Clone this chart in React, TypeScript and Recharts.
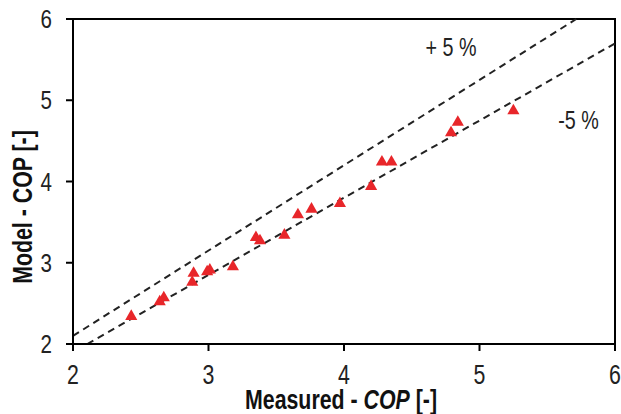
import React from 'react';
import { ScatterChart, Scatter, XAxis, YAxis, ReferenceLine, ReferenceArea, ReferenceDot, Label } from 'recharts';

const measured = [2.43, 2.64, 2.67, 2.88, 2.89, 2.99, 3.01, 3.18, 3.35, 3.38, 3.56, 3.66, 3.76, 3.97, 4.20, 4.28, 4.35, 4.79, 4.84, 5.25];
const model = [2.34, 2.52, 2.57, 2.76, 2.87, 2.89, 2.91, 2.95, 3.31, 3.27, 3.34, 3.59, 3.66, 3.73, 3.94, 4.24, 4.24, 4.60, 4.73, 4.87];
const ticks = [2, 3, 4, 5, 6];
const plusLine = [{ x: 2, y: 2.1 }, { x: 6 / 1.05, y: 6 }];
const minusLine = [{ x: 2 / 0.95, y: 2 }, { x: 6, y: 5.7 }];

const data = measured.map((m, i) => ({ x: m, y: model[i] }));

const FONT = '"Liberation Sans", Arial, sans-serif';
const SX = 0.79;

const XTick = (props: any) => {
  const { x, y, payload } = props;
  return (
    <g transform={`translate(${x},${y})`}>
      <text transform={`scale(${SX},1)`} textAnchor="middle" y={33} fontFamily={FONT} fontSize={27} fill="#222">
        {payload.value}
      </text>
    </g>
  );
};

const YTick = (props: any) => {
  const { y, payload } = props;
  return (
    <g transform={`translate(52,${y})`}>
      <text transform={`scale(${SX},1)`} textAnchor="end" y={9} fontFamily={FONT} fontSize={26} fill="#222">
        {payload.value}
      </text>
    </g>
  );
};

const mkLabel = (text: string) => (p: any) => {
  const vb = p.viewBox || {};
  const cx = vb.x + (vb.width || 0) / 2;
  const cy = vb.y + (vb.height || 0) / 2;
  return (
    <g transform={`translate(${cx},${cy})`}>
      <text transform={`scale(${SX},1)`} textAnchor="middle" y={9} fontFamily={FONT} fontSize={25} fill="#222">
        {text}
      </text>
    </g>
  );
};

export default function App() {
  return (
    <div style={{ position: 'absolute', left: 0, top: 0, background: '#fff' }}>
      <ScatterChart width={621} height={414} margin={{ top: 19, right: 6, bottom: 0, left: 0 }}>
        <XAxis
          type="number"
          dataKey="x"
          domain={[2, 6]}
          ticks={ticks}
          height={70}
          stroke="#000"
          strokeWidth={2}
          tickSize={7}
          tickMargin={0}
          tick={<XTick />}
        >
          <Label
            content={() => (
              <g transform="translate(341,409)">
                <text transform={`scale(${SX},1)`} textAnchor="middle" fontFamily={FONT} fontSize={27} fontWeight="bold" fill="#111">
                  Measured - <tspan fontStyle="italic">COP</tspan> [-]
                </text>
              </g>
            )}
          />
        </XAxis>
        <YAxis
          type="number"
          dataKey="y"
          domain={[2, 6]}
          ticks={ticks}
          width={73}
          stroke="#000"
          strokeWidth={2}
          tickSize={7}
          tick={<YTick />}
        >
          <Label
            content={() => (
              <g transform="translate(22,207) rotate(-90)">
                <text transform={`scale(${SX},1)`} textAnchor="middle" y={9.5} fontFamily={FONT} fontSize={27} fontWeight="bold" fill="#111">
                  Model - COP [-]
                </text>
              </g>
            )}
          />
        </YAxis>
        <ReferenceArea x1={2} x2={6} y1={2} y2={6} fill="none" stroke="#000" strokeWidth={2} />
        <ReferenceLine segment={plusLine} stroke="#222" strokeWidth={2} strokeDasharray="7 5" />
        <ReferenceLine segment={minusLine} stroke="#222" strokeWidth={2} strokeDasharray="7 5" />
        <ReferenceDot x={4.79} y={5.66} r={0} fill="none" stroke="none" label={mkLabel('+ 5 %')} />
        <ReferenceDot x={5.73} y={4.76} r={0} fill="none" stroke="none" label={mkLabel('-5 %')} />
        <Scatter data={data} shape="triangle" fill="#e8262a" isAnimationActive={false} legendType="triangle" size={80} />
      </ScatterChart>
    </div>
  );
}
